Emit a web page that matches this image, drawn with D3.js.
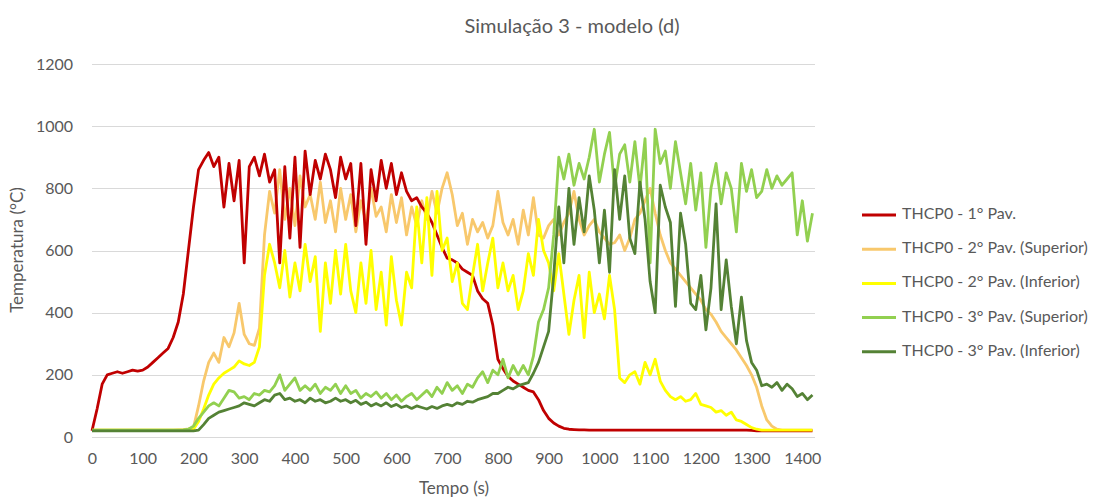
<!DOCTYPE html>
<html>
<head>
<meta charset="utf-8">
<script src="https://cdn.jsdelivr.net/npm/d3@7"></script>
<style>
  body { margin: 0; background: #fff; }
  svg text { font-family: Lato, "Noto Sans", sans-serif; fill: #595959; }
</style>
</head>
<body>
<div id="chart"></div>
<script>
// sample times (s), one reading every 10 s
var tempo = d3.range(0, 1430, 10);

// THCP0 - 1º Pav.
var pav1 = [
  20, 90, 170, 200, 205, 210, 205, 210, 215, 212,
  215, 225, 240, 255, 270, 285, 320, 370, 460, 600,
  740, 860, 890, 915, 870, 900, 740, 880, 760, 890,
  560, 870, 900, 840, 910, 820, 860, 560, 870, 640,
  900, 610, 920, 780, 890, 830, 910, 860, 770, 900,
  830, 880, 680, 880, 620, 860, 760, 890, 800, 880,
  780, 850, 790, 760, 770, 740, 720, 690, 650, 610,
  575, 570, 560, 540, 530, 520, 470, 445, 430, 360,
  250, 220, 195, 180, 170, 160, 150, 145, 120, 85,
  60, 45, 35, 28, 25, 24, 23, 23, 22, 22,
  22, 22, 22, 22, 22, 22, 22, 22, 22, 22,
  22, 22, 22, 22, 22, 22, 22, 22, 22, 22,
  22, 22, 22, 22, 22, 22, 22, 22, 22, 22,
  21, 20, 20, 20, 20, 20, 20, 20, 20, 20,
  20, 20, 20
];
// THCP0 - 2º Pav. (Superior)
var pav2sup = [
  22, 22, 22, 22, 22, 22, 22, 22, 22, 22,
  22, 22, 22, 22, 22, 22, 22, 23, 24, 26,
  30, 100, 180, 240, 270, 240, 320, 290, 335, 430,
  330, 300, 295, 350, 650, 790, 720, 860, 700, 800,
  680, 840, 740, 780, 700, 820, 690, 760, 660, 800,
  700, 780, 660, 760, 690, 800, 710, 740, 660, 780,
  690, 770, 650, 740, 680, 760, 700, 790, 720, 800,
  850, 780, 680, 720, 620, 700, 660, 690, 640, 680,
  790, 690, 650, 700, 620, 730, 650, 770, 650, 640,
  680, 700, 650, 690, 720, 790, 700, 650, 680, 700,
  660, 640, 620, 625, 650, 600, 640, 700, 720, 760,
  800, 720, 650, 600, 560, 540, 520, 500, 480, 460,
  440, 410, 395, 370, 340, 320, 300, 280, 255, 230,
  200, 160, 100, 55, 35, 25, 22, 22, 22, 22,
  22, 22, 22
];
// THCP0 - 2º Pav. (Inferior)
var pav2inf = [
  22, 22, 22, 22, 22, 22, 22, 22, 22, 22,
  22, 22, 22, 22, 22, 22, 22, 22, 22, 23,
  25, 50, 90, 135, 170, 190, 205, 215, 225, 245,
  235, 230, 240, 290, 520, 620, 560, 480, 600, 450,
  560, 470, 620, 500, 580, 340, 560, 430, 600, 460,
  620, 470, 400, 560, 430, 600, 410, 530, 360, 580,
  440, 360, 530, 480, 740, 560, 770, 520, 790, 600,
  640, 500, 560, 430, 410, 520, 620, 470, 560, 640,
  480, 560, 470, 520, 410, 470, 590, 520, 700, 600,
  560, 470, 590, 460, 330, 440, 520, 320, 530, 400,
  460, 380, 520, 410, 190, 175, 200, 210, 170, 240,
  200, 250, 180, 150, 130, 120, 130, 115, 120, 140,
  105, 100, 95, 80, 85, 70, 80, 55, 50, 40,
  30, 25, 22, 22, 22, 22, 22, 22, 22, 22,
  22, 22, 22
];
// THCP0 - 3º Pav. (Superior)
var pav3sup = [
  22, 22, 22, 22, 22, 22, 22, 22, 22, 22,
  22, 22, 22, 22, 22, 22, 22, 22, 23, 25,
  35, 60, 80, 100, 110, 100, 125, 150, 145, 125,
  130, 120, 140, 135, 150, 145, 165, 200, 150, 170,
  190, 150, 165, 150, 170, 140, 160, 150, 170, 140,
  165, 140, 150, 125, 140, 130, 145, 125, 140, 120,
  135, 115, 130, 140, 120, 135, 150, 130, 160, 140,
  175, 150, 165, 140, 170, 160, 190, 210, 175, 215,
  200, 250, 190, 230, 200, 230, 200, 260, 370, 410,
  480, 650, 900, 830, 910, 810, 880, 830, 900, 990,
  820, 910, 980, 800, 910, 940, 820, 950, 800, 960,
  560, 990, 880, 920, 800, 950, 850, 750, 880, 730,
  850, 610, 800, 880, 750, 850, 800, 660, 880, 790,
  860, 770, 790, 860, 800, 840, 810, 830, 850, 650,
  760, 630, 720
];
// THCP0 - 3º Pav. (Inferior)
var pav3inf = [
  20, 20, 20, 20, 20, 20, 20, 20, 20, 20,
  20, 20, 20, 20, 20, 20, 20, 20, 20, 20,
  20, 22, 40, 60, 70, 80, 85, 90, 95, 100,
  110, 105, 100, 110, 120, 115, 135, 140, 120, 125,
  115, 120, 110, 125, 115, 120, 110, 115, 125, 115,
  120, 110, 118, 105, 112, 100, 108, 100, 110, 98,
  105, 95, 100, 92, 100, 95, 90, 98, 92, 100,
  105, 100, 110, 105, 115, 112, 120, 125, 130, 140,
  140, 150, 160, 155, 165, 170, 175, 205, 240, 290,
  340, 520, 740, 560, 800, 620, 770, 660, 840, 730,
  560, 730, 530, 860, 700, 840, 640, 590, 820, 700,
  500, 400, 810, 740, 690, 420, 720, 620, 430, 410,
  520, 345, 480, 750, 410, 570, 420, 300, 450, 310,
  240, 215, 165, 170, 160, 175, 150, 170, 155, 130,
  140, 120, 135
];

var seriesNames = [
  "THCP0 - 1° Pav.",
  "THCP0 - 2° Pav. (Superior)",
  "THCP0 - 2° Pav. (Inferior)",
  "THCP0 - 3° Pav. (Superior)",
  "THCP0 - 3° Pav. (Inferior)"
];
var seriesColors = ["#C00000", "#F8C86C", "#FFFF00", "#92D050", "#548235"];
var xTicks = d3.range(0, 1500, 100);
var yTicks = [0, 200, 400, 600, 800, 1000, 1200];

var width = 1104, height = 499;
var margin = {top: 64, right: 289, bottom: 62, left: 92};

var svg = d3.select("#chart").append("svg")
    .attr("width", width)
    .attr("height", height);

var xScale = d3.scaleLinear().domain([0, 1425]).range([margin.left, width - margin.right]);
var yScale = d3.scaleLinear().domain([0, 1200]).range([height - margin.bottom, margin.top]);

// horizontal grid lines
svg.selectAll("line.grid").data(yTicks).enter()
    .append("line")
    .attr("class", "grid")
    .attr("x1", xScale(0))
    .attr("x2", xScale(1425))
    .attr("y1", function(d) { return Math.round(yScale(d)) + 0.5; })
    .attr("y2", function(d) { return Math.round(yScale(d)) + 0.5; })
    .style("stroke", "#d9d9d9")
    .style("stroke-width", 1);

// y axis labels (no thousands separator, like Excel)
var yAxis = svg.append("g")
    .attr("transform", `translate(${margin.left - 19},0)`)
    .call(d3.axisLeft(yScale).tickValues(yTicks).tickFormat(d3.format("d")).tickSize(0).tickPadding(0));
yAxis.select(".domain").remove();
yAxis.selectAll("text").style("font-size", "16px");

// x axis labels
var xAxis = svg.append("g")
    .attr("transform", `translate(0,${height - margin.bottom + 16})`)
    .call(d3.axisBottom(xScale).tickValues(xTicks).tickFormat(d3.format("d")).tickSize(0).tickPadding(0));
xAxis.select(".domain").remove();
xAxis.selectAll("text").style("font-size", "16px");

// the series, drawn from the arrays above
var allSeries = [pav1, pav2sup, pav2inf, pav3sup, pav3inf];
var drawOrder = [1, 0, 2, 3, 4];
var line = d3.line()
    .x(function(d, i) { return xScale(tempo[i]); })
    .y(function(d) { return yScale(d); });

drawOrder.forEach(function(k) {
    svg.append("path")
        .datum(allSeries[k])
        .attr("d", line)
        .style("fill", "none")
        .style("stroke", seriesColors[k])
        .style("stroke-width", 2.8)
        .style("stroke-linejoin", "round");
});

// titles
svg.append("text")
    .attr("x", 572)
    .attr("y", 28)
    .attr("text-anchor", "middle")
    .attr("dominant-baseline", "middle")
    .style("font-size", "20px")
    .text("Simulação 3 - modelo (d)");

svg.append("text")
    .attr("transform", "translate(19,250) rotate(-90)")
    .attr("text-anchor", "middle")
    .attr("dominant-baseline", "middle")
    .style("font-size", "17px")
    .text("Temperatura (°C)");

svg.append("text")
    .attr("x", 454)
    .attr("y", 490)
    .attr("text-anchor", "middle")
    .attr("dominant-baseline", "middle")
    .style("font-size", "17px")
    .text("Tempo (s)");

// legend
var legend = svg.append("g").attr("transform", "translate(862,215)");
var entries = legend.selectAll("g").data(seriesNames).enter()
    .append("g")
    .attr("transform", function(d, i) { return `translate(0,${i * 34.2})`; });
entries.append("line")
    .attr("x1", 0).attr("x2", 34)
    .attr("y1", 0).attr("y2", 0)
    .style("stroke", function(d, i) { return seriesColors[i]; })
    .style("stroke-width", 3);
entries.append("text")
    .attr("x", 40)
    .attr("y", 0)
    .attr("dominant-baseline", "middle")
    .style("font-size", "16px")
    .text(function(d) { return d; });
</script>
</body>
</html>
